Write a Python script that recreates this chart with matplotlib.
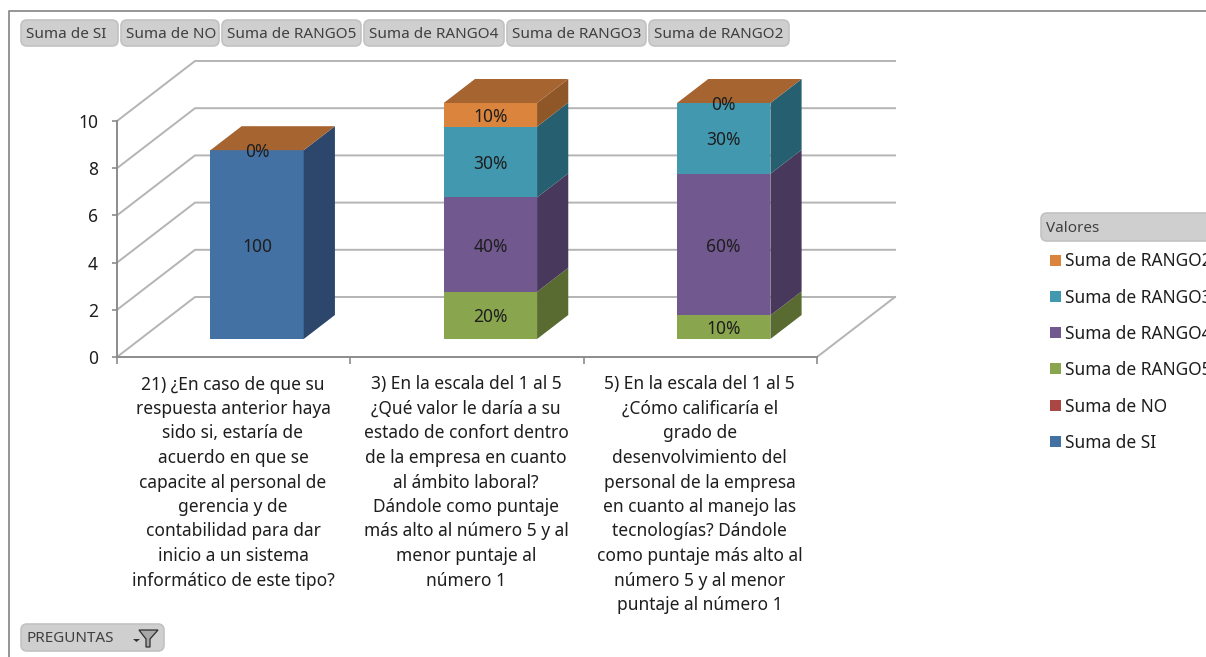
import matplotlib
matplotlib.use('Agg')
import matplotlib.pyplot as plt
from matplotlib.patches import Polygon, Rectangle, FancyBboxPatch

# values
series_names = ['Suma de SI', 'Suma de NO', 'Suma de RANGO5', 'Suma de RANGO4', 'Suma de RANGO3', 'Suma de RANGO2']
suma_si = [8, 0, 0]
suma_no = [0, 0, 0]
suma_rango5 = [0, 2, 1]
suma_rango4 = [0, 4, 6]
suma_rango3 = [0, 3, 3]
suma_rango2 = [0, 1, 0]
series_values = [suma_si, suma_no, suma_rango5, suma_rango4, suma_rango3, suma_rango2]

labels_si = ['100', '', '']
labels_no = ['', '', '']
labels_rango5 = ['', '20%', '10%']
labels_rango4 = ['', '40%', '60%']
labels_rango3 = ['', '30%', '30%']
labels_rango2 = ['0%', '10%', '0%']
series_labels = [labels_si, labels_no, labels_rango5, labels_rango4, labels_rango3, labels_rango2]

y_ticks = [0, 2, 4, 6, 8, 10]

preguntas = [
    ['21) ¿En caso de que su', 'respuesta anterior haya', 'sido si, estaría de', 'acuerdo en que se',
     'capacite al personal de', 'gerencia y de', 'contabilidad para dar', 'inicio a un sistema',
     'informático de este tipo?'],
    ['3) En la escala del 1 al 5', '¿Qué valor le daría a su', 'estado de confort dentro',
     'de la empresa en cuanto', 'al ámbito laboral?', 'Dándole como puntaje',
     'más alto al número 5 y al', 'menor puntaje al', 'número 1'],
    ['5) En la escala del 1 al 5', '¿Cómo calificaría el', 'grado de', 'desenvolvimiento del',
     'personal de la empresa', 'en cuanto al manejo las', 'tecnologías? Dándole',
     'como puntaje más alto al', 'número 5 y al menor', 'puntaje al número 1'],
]

front_colors = ['#4471A3', '#AA4643', '#89A54E', '#71588F', '#4198AF', '#DB843D']
side_colors = ['#2C476B', '#6E2D2B', '#5A6B32', '#47385C', '#266070', '#8F5628']
top_color = '#A66430'
grid_color = '#B4B4B4'
text_color = '#1E1E1E'
chrome_text = '#404040'

plt.rcParams['font.family'] = ['Noto Sans', 'DejaVu Sans']

W, H = 1206, 657
fig = plt.figure(figsize=(W / 100, H / 100), dpi=100)

# chrome layer works in screen pixels
bg = fig.add_axes([0, 0, 1, 1])
bg.set_xlim(0, W)
bg.set_ylim(H, 0)
bg.axis('off')

ax = fig.add_axes([117 / W, (H - 357) / H, 700 / W, 236 / H])
ax.set_xlim(0, 3)
ax.set_ylim(0, 10)
ax.patch.set_alpha(0)

# oblique projection: depth 0..1 shifts right and up
depth_x = 78 / (700 / 3)
depth_y = 60 / (236 / 10)


def proj(x, y, d):
    return x + d * depth_x, y + d * depth_y


# outer frame
bg.plot([9, 9, W], [H, 11, 11], color='#8C8C8C', lw=1.3)

# walls and floor
for v in y_ticks:
    pts = [proj(0, v, 0), proj(0, v, 1), proj(3, v, 1)]
    ax.plot([p[0] for p in pts], [p[1] for p in pts], color=grid_color, lw=1.4, clip_on=False, zorder=1)
pts = [proj(3, 0, 0), proj(3, 0, 1)]
ax.plot([p[0] for p in pts], [p[1] for p in pts], color=grid_color, lw=1.4, clip_on=False, zorder=1)

# stacked bars
bar_w = 0.4
d0, d1 = 0.3, 0.7
for i in range(len(preguntas)):
    x0 = i + 0.5 - bar_w / 2
    x1 = x0 + bar_w
    base = 0
    for s, vals in enumerate(series_values):
        top = base + vals[i]
        if vals[i] > 0:
            front = [proj(x0, base, d0), proj(x1, base, d0), proj(x1, top, d0), proj(x0, top, d0)]
            side = [proj(x1, base, d0), proj(x1, base, d1), proj(x1, top, d1), proj(x1, top, d0)]
            ax.add_patch(Polygon(front, facecolor=front_colors[s], edgecolor='none', clip_on=False, zorder=3))
            ax.add_patch(Polygon(side, facecolor=side_colors[s], edgecolor='none', clip_on=False, zorder=3))
        if series_labels[s][i]:
            ax.annotate(series_labels[s][i], proj(i + 0.5, (base + top) / 2, d0), xytext=(0, -1.4),
                        textcoords='offset points', ha='center', va='center', fontsize=12.5,
                        color=text_color, zorder=5, annotation_clip=False)
        base = top
    cap = [proj(x0, base, d0), proj(x1, base, d0), proj(x1, base, d1), proj(x0, base, d1)]
    ax.add_patch(Polygon(cap, facecolor=top_color, edgecolor='none', clip_on=False, zorder=3))

for side_name in ['top', 'right']:
    ax.spines[side_name].set_visible(False)
for side_name in ['left', 'bottom']:
    ax.spines[side_name].set_color('#8C8C8C')
    ax.spines[side_name].set_linewidth(1.4)
ax.set_yticks(y_ticks)
ax.set_xticks(range(len(preguntas) + 1))
ax.set_xticklabels([])
ax.tick_params(axis='y', length=3.6, width=1.2, color='#8C8C8C', pad=10, labelsize=12.5, labelcolor=text_color)
ax.tick_params(axis='x', length=5, width=1.2, color='#8C8C8C')

# category labels
for i, lines in enumerate(preguntas):
    for j, line in enumerate(lines):
        bg.text(233 + i * 233.3, 384.5 + j * 24.5, line, ha='center', va='center', fontsize=12.5, color=text_color)


def button(x0, y0, x1, y1, text):
    bg.add_patch(FancyBboxPatch((x0 + 4, y0 + 4), x1 - x0 - 8, y1 - y0 - 8, boxstyle='round,pad=4,rounding_size=6',
                                facecolor='#CFCFCF', edgecolor='#C2C2C2', lw=1.2))
    bg.text(x0 + 5, (y0 + y1) / 2 + 1.5, text, ha='left', va='center', fontsize=11, color=chrome_text)


# field buttons
btn_edges = [(21, 118), (121, 219), (222, 361), (364, 504), (507, 646), (649, 789)]
for (x0, x1), name in zip(btn_edges, series_names):
    button(x0, 20, x1, 46, name)

button(21, 624, 164, 651, 'PREGUNTAS')
bg.add_patch(Polygon([(139, 630), (158, 630), (150, 639), (150, 647), (146, 647), (146, 639)],
                     facecolor='#A8A8A8', edgecolor='#2E2E2E', lw=0.9))
bg.add_patch(Polygon([(133, 639), (140, 639), (136.5, 642)], facecolor='#333333', edgecolor='none'))

# legend, last series on top
button(1041, 213, 1240, 241, 'Valores')
for k, s in enumerate(reversed(range(len(series_names)))):
    y = 260 + k * 36.3
    bg.add_patch(Rectangle((1050, y - 5.5), 11, 11, facecolor=front_colors[s], edgecolor='none'))
    bg.text(1065, y + 1.5, series_names[s], ha='left', va='center', fontsize=12.5, color=text_color, clip_on=False)

fig.savefig('out.png', dpi=100)
